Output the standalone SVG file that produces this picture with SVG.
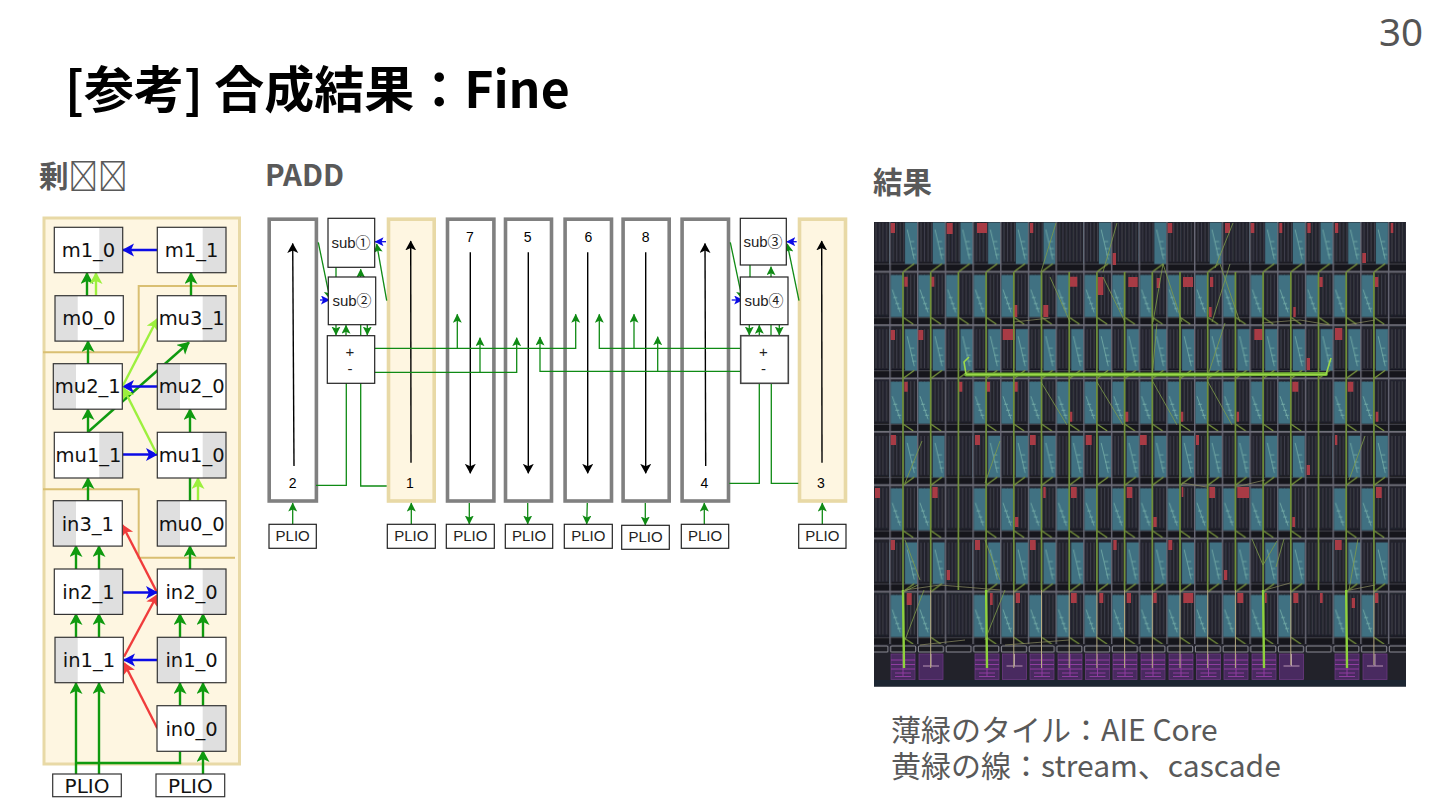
<svg xmlns="http://www.w3.org/2000/svg" width="1440" height="810" viewBox="0 0 1440 810">
<style>
.cjk{font-family:"Noto Sans CJK JP","Noto Sans",sans-serif}
.h{font-weight:700;font-size:29.5px;fill:#595959}
.cap{font-size:30px;fill:#595959}
.n{fill:#fff;stroke:none}
.g{fill:#dfdfdf;stroke:none}
.o{fill:none;stroke:#333;stroke-width:1.2}
.nt{font-family:"DejaVu Sans",sans-serif;font-size:19.5px;fill:#111;text-anchor:middle}
.gl{fill:none;stroke:#0f9a0f;stroke-width:2.4}
.lm{fill:none;stroke:#9cf03e;stroke-width:2.4}
.bl{fill:none;stroke:#0b0be6;stroke-width:2.4}
.rd{fill:none;stroke:#f03c3c;stroke-width:2.4}
.t{fill:none;stroke:#0f8a14;stroke-width:1.3}
.tb{fill:none;stroke:#0b0be6;stroke-width:1.3}
.k{fill:none;stroke:#000;stroke-width:1.4}
.tan{fill:none;stroke:#d9bf72;stroke-width:2}
.bx{stroke:#808080;stroke-width:3.6;fill:#fff}
.by{stroke:#e8d9a6;stroke-width:3.6;fill:#fef6e1}
.sb{fill:#fff;stroke:#222;stroke-width:1.2}
.mt{font-family:"Liberation Sans","Noto Sans CJK JP",sans-serif;font-size:15px;fill:#222;text-anchor:middle}
.num{font-family:"Liberation Sans",sans-serif;font-size:14px;fill:#000;text-anchor:middle}
</style>
<defs>
<filter id="soft" x="0" y="0" width="1" height="1"><feGaussianBlur stdDeviation=".55"/></filter>
<marker id="mg" markerUnits="userSpaceOnUse" markerWidth="14" markerHeight="14" refX="11" refY="6.5" orient="auto"><path d="M0 0L12 6.5L0 13L3 6.5z" fill="#0f9a0f"/></marker>
<marker id="ml" markerUnits="userSpaceOnUse" markerWidth="14" markerHeight="14" refX="11" refY="6.5" orient="auto"><path d="M0 0L12 6.5L0 13L3 6.5z" fill="#9cf03e"/></marker>
<marker id="mb" markerUnits="userSpaceOnUse" markerWidth="14" markerHeight="14" refX="11" refY="6.5" orient="auto"><path d="M0 0L12 6.5L0 13L3 6.5z" fill="#0b0be6"/></marker>
<marker id="mr" markerUnits="userSpaceOnUse" markerWidth="14" markerHeight="14" refX="11" refY="6.5" orient="auto"><path d="M0 0L12 6.5L0 13L3 6.5z" fill="#f03c3c"/></marker>
<marker id="sg" markerUnits="userSpaceOnUse" markerWidth="11" markerHeight="11" refX="8.5" refY="4.5" orient="auto"><path d="M0 0L9 4.5L0 9L2 4.5z" fill="#0f8a14"/></marker>
<marker id="sb" markerUnits="userSpaceOnUse" markerWidth="11" markerHeight="11" refX="8.5" refY="4.5" orient="auto"><path d="M0 0L9 4.5L0 9L2 4.5z" fill="#0b0be6"/></marker>
<marker id="sk" markerUnits="userSpaceOnUse" markerWidth="12" markerHeight="12" refX="9.5" refY="5.5" orient="auto"><path d="M0 0L10 5.5L0 11L2.5 5.5z" fill="#000"/></marker>
<g id="gb">
<rect width="27.7" height="106.66" fill="#20212b"/>
<path d="M4 5V44M7.5 5V44M11 5V44M14.5 5V44M18 5V44M21.5 5V44M25 5V44M4 57V97M7.5 57V97M11 57V97M14.5 57V97M18 57V97M21.5 57V97M25 57V97" stroke="#45464f" stroke-width=".9" fill="none"/>
<rect y="45" width="27.7" height="8" fill="#15151b"/><rect y="98.4" width="27.7" height="8" fill="#15151b"/>
<path d="M0 46.5H27.7M0 100H27.7" stroke="#4c4c56" stroke-width=".9"/>
<path d="M0 .8H27.7M0 54.13H27.7" stroke="#71717b" stroke-width="1.7"/>
<path d="M.7 0V106.66" stroke="#686874" stroke-width="1.5"/>
</g>
<pattern id="blankp" patternUnits="userSpaceOnUse" x="889.3" y="217.6" width="27.7" height="106.66"><use href="#gb"/></pattern>
<pattern id="tile" patternUnits="userSpaceOnUse" x="889.3" y="217.6" width="27.7" height="106.66">
<use href="#gb"/>
<rect x="15.7" y="4.8" width="12" height="41.6" fill="#3f7182"/>
<rect x="1.4" y="57.4" width="12.4" height="42" fill="#3f7182"/>
<path d="M18 12L25 42M21 24h4M22 31h4M23 37h4M3 72L11 95M4 80h4M6 86h4M8 91h4" stroke="#93cdbb" stroke-width=".7" fill="none" opacity=".75"/>
<path d="M25 46L14 54M14 100L24 106.6" stroke="#7d9a3d" stroke-width="1.2" fill="none"/>
</pattern>
<pattern id="pad" patternUnits="userSpaceOnUse" x="889.3" y="644" width="27.7" height="10"><rect width="27.7" height="10" fill="#22222c"/><rect x="1.4" y="2" width="25" height="6" rx="1" fill="#1c1c24" stroke="#8b8b93" stroke-width="1"/></pattern>
<g id="pu"><rect x="0" y="654" width="24" height="25.5" fill="#4a2960" stroke="#6b3a80" stroke-width=".8"/><path d="M0 660H24M0 664.5H24M0 669H24M4 673H20M4 676.5H20M12 654V676" stroke="#8f3ca0" stroke-width="1" fill="none"/></g>
<g id="pv"><rect x="0" y="654" width="24" height="25.5" fill="#4a2960" stroke="#6b3a80" stroke-width=".8"/><path d="M4 666H20M12 654V666" stroke="#b89ab4" stroke-width="1" fill="none"/></g>
</defs>
<rect width="1440" height="810" fill="#fff"/>
<text x="1379" y="46" font-family="'Noto Sans',sans-serif" font-size="38.5" fill="#555">30</text>
<text class="cjk" x="65" y="108" font-size="50" font-weight="700" fill="#000">[参考] 合成結果：Fine</text>
<text class="cjk h" x="39" y="187">剰&#xE000;&#xE001;</text>
<text class="cjk h" x="265" y="186">PADD</text>
<text class="cjk h" x="873" y="193">結果</text>

<g id="left-panel">
<rect x="44" y="218" width="195.5" height="546" fill="#fef6e1" stroke="#e8d9a6" stroke-width="3"/>
<path class="tan" d="M43 352.3H138.7V286H237"/>
<path class="tan" d="M43 489.3H138.7V557.7H235"/>
</g>
<g id="left-connectors">
<path class="gl" marker-end="url(#mg)" d="M87 296V273"/>
<path class="lm" marker-end="url(#ml)" d="M96 296V273"/>
<path class="gl" marker-end="url(#mg)" d="M191 296V273"/>
<path class="gl" marker-end="url(#mg)" d="M88 364V341"/>
<path class="gl" marker-end="url(#mg)" d="M88 432V409"/>
<path class="gl" marker-end="url(#mg)" d="M88 432L189 342.5"/>
<path class="gl" marker-end="url(#mg)" d="M190 432V409"/>
<path class="bl" marker-end="url(#mb)" d="M157 250H123"/>
<path class="bl" marker-end="url(#mb)" d="M157 386.5H123"/>
<path class="bl" marker-end="url(#mb)" d="M123 454.5H157"/>
<path class="lm" marker-end="url(#ml)" d="M122.7 386L157.3 319"/>
<path class="lm" marker-end="url(#ml)" d="M156.5 453.5L123.3 388"/>
<path class="gl" marker-end="url(#mg)" d="M88 501V478"/>
<path class="gl" d="M190 501V478"/>
<path class="lm" marker-end="url(#ml)" d="M198 501V478"/>
<path class="gl" marker-end="url(#mg)" d="M76 569V546"/>
<path class="gl" marker-end="url(#mg)" d="M99 569V546"/>
<path class="gl" marker-end="url(#mg)" d="M190 569V546"/>
<path class="gl" marker-end="url(#mg)" d="M76 637V614"/>
<path class="gl" marker-end="url(#mg)" d="M99 637V614"/>
<path class="gl" marker-end="url(#mg)" d="M180 637V614"/>
<path class="gl" marker-end="url(#mg)" d="M203 637V614"/>
<path class="gl" marker-end="url(#mg)" d="M180 706V683"/>
<path class="gl" marker-end="url(#mg)" d="M203 706V683"/>
<path class="gl" marker-end="url(#mg)" d="M76 774V683"/>
<path class="gl" marker-end="url(#mg)" d="M99 774V683"/>
<path class="gl" d="M180 751V763H76"/>
<path class="gl" marker-end="url(#mg)" d="M203 774V751"/>
<path class="rd" marker-end="url(#mr)" d="M156.7 591.7L122.3 525"/>
<path class="rd" marker-end="url(#mr)" d="M124 656.7L157.3 595"/>
<path class="rd" marker-end="url(#mr)" d="M157.3 728.3L124 663"/>
<path class="bl" marker-end="url(#mb)" d="M123 592.5H157"/>
<path class="bl" marker-end="url(#mb)" d="M157 660H124"/>
</g>
<g id="m1_0"><rect class="n" x="54.3" y="227.3" width="68.4" height="45.4"/><rect class="g" x="99.3" y="227.3" width="23.4" height="45.4"/><rect class="o" x="54.3" y="227.3" width="68.4" height="45.4"/><text class="nt" x="88.5" y="257">m1_0</text></g>
<g id="m1_1"><rect class="n" x="157.3" y="227.3" width="68.7" height="45.4"/><rect class="g" x="202.7" y="227.3" width="23.3" height="45.4"/><rect class="o" x="157.3" y="227.3" width="68.7" height="45.4"/><text class="nt" x="191.6" y="257">m1_1</text></g>
<g id="m0_0"><rect class="n" x="55" y="295.7" width="68.3" height="45.4"/><rect class="g" x="55" y="295.7" width="22.7" height="45.4"/><rect class="o" x="55" y="295.7" width="68.3" height="45.4"/><text class="nt" x="89" y="325">m0_0</text></g>
<g id="mu3_1"><rect class="n" x="157.3" y="295.7" width="68.7" height="45.4"/><rect class="g" x="202.7" y="295.7" width="23.3" height="45.4"/><rect class="o" x="157.3" y="295.7" width="68.7" height="45.4"/><text class="nt" x="191.6" y="325">mu3_1</text></g>
<g id="mu2_1"><rect class="n" x="53.3" y="363.7" width="69" height="45.5"/><rect class="g" x="53.3" y="363.7" width="22.7" height="45.5"/><rect class="o" x="53.3" y="363.7" width="69" height="45.5"/><text class="nt" x="87.8" y="393">mu2_1</text></g>
<g id="mu2_0"><rect class="n" x="157.3" y="363.7" width="68.7" height="45.5"/><rect class="g" x="157.3" y="363.7" width="22.7" height="45.5"/><rect class="o" x="157.3" y="363.7" width="68.7" height="45.5"/><text class="nt" x="191.6" y="393">mu2_0</text></g>
<g id="mu1_1"><rect class="n" x="54.3" y="432.3" width="68.4" height="45.7"/><rect class="g" x="99.3" y="432.3" width="23.4" height="45.7"/><rect class="o" x="54.3" y="432.3" width="68.4" height="45.7"/><text class="nt" x="88.5" y="462">mu1_1</text></g>
<g id="mu1_0"><rect class="n" x="157.3" y="432.3" width="68.7" height="45.7"/><rect class="g" x="202.7" y="432.3" width="23.3" height="45.7"/><rect class="o" x="157.3" y="432.3" width="68.7" height="45.7"/><text class="nt" x="191.6" y="462">mu1_0</text></g>
<g id="in3_1"><rect class="n" x="53.3" y="500.7" width="69" height="45.4"/><rect class="g" x="53.3" y="500.7" width="22.7" height="45.4"/><rect class="o" x="53.3" y="500.7" width="69" height="45.4"/><text class="nt" x="87.8" y="531">in3_1</text></g>
<g id="mu0_0"><rect class="n" x="157.3" y="500.7" width="68.7" height="45.4"/><rect class="g" x="157.3" y="500.7" width="22.7" height="45.4"/><rect class="o" x="157.3" y="500.7" width="68.7" height="45.4"/><text class="nt" x="191.6" y="531">mu0_0</text></g>
<g id="in2_1"><rect class="n" x="54.3" y="569" width="68.4" height="45.4"/><rect class="g" x="99.3" y="569" width="23.4" height="45.4"/><rect class="o" x="54.3" y="569" width="68.4" height="45.4"/><text class="nt" x="88.5" y="599">in2_1</text></g>
<g id="in2_0"><rect class="n" x="157.3" y="569" width="68.7" height="45.4"/><rect class="g" x="202.7" y="569" width="23.3" height="45.4"/><rect class="o" x="157.3" y="569" width="68.7" height="45.4"/><text class="nt" x="191.6" y="599">in2_0</text></g>
<g id="in1_1"><rect class="n" x="55" y="637.3" width="68.3" height="45.4"/><rect class="g" x="55" y="637.3" width="22.7" height="45.4"/><rect class="o" x="55" y="637.3" width="68.3" height="45.4"/><text class="nt" x="89" y="667">in1_1</text></g>
<g id="in1_0"><rect class="n" x="157.3" y="637.3" width="68.7" height="45.4"/><rect class="g" x="157.3" y="637.3" width="22.7" height="45.4"/><rect class="o" x="157.3" y="637.3" width="68.7" height="45.4"/><text class="nt" x="191.6" y="667">in1_0</text></g>
<g id="in0_0"><rect class="n" x="157" y="705.7" width="69" height="45.6"/><rect class="g" x="202.7" y="705.7" width="23.3" height="45.6"/><rect class="o" x="157" y="705.7" width="69" height="45.6"/><text class="nt" x="191.6" y="736">in0_0</text></g>
<g id="plio-l1"><rect class="n" x="52.7" y="774" width="68.6" height="22.7"/><rect class="o" x="52.7" y="774" width="68.6" height="22.7"/><text class="nt" x="87" y="793" style="font-size:20px">PLIO</text></g>
<g id="plio-l2"><rect class="n" x="156" y="774" width="68.7" height="22.7"/><rect class="o" x="156" y="774" width="68.7" height="22.7"/><text class="nt" x="190.3" y="793" style="font-size:20px">PLIO</text></g>

<g id="box2"><rect class="bx" x="269.2" y="219.2" width="47.2" height="281.8"/><text class="num" x="292.7" y="488">2</text></g>
<g id="box1"><rect class="by" x="388.5" y="219.2" width="45.7" height="281.8"/><text class="num" x="410" y="488">1</text></g>
<g id="box7"><rect class="bx" x="447.5" y="219.2" width="46.4" height="281.8"/><text class="num" x="470" y="242">7</text></g>
<g id="box5"><rect class="bx" x="505.5" y="219.2" width="46" height="281.8"/><text class="num" x="527.7" y="242">5</text></g>
<g id="box6"><rect class="bx" x="565.1" y="219.2" width="46.4" height="281.8"/><text class="num" x="588.3" y="242">6</text></g>
<g id="box8"><rect class="bx" x="623.1" y="219.2" width="46.1" height="281.8"/><text class="num" x="645.7" y="242">8</text></g>
<g id="box4"><rect class="bx" x="682.1" y="219.2" width="46.4" height="281.8"/><text class="num" x="704.3" y="488">4</text></g>
<g id="box3"><rect class="by" x="799.5" y="219.2" width="46" height="281.8"/><text class="num" x="821" y="488">3</text></g>

<g id="mid-connectors">
<path class="k" marker-end="url(#sk)" d="M294 466L292.7 243.5"/>
<path class="k" marker-end="url(#sk)" d="M411 462.7L410.7 241"/>
<path class="k" marker-end="url(#sk)" d="M470.3 252.3V473.3"/>
<path class="k" marker-end="url(#sk)" d="M528.3 252.3V473.3"/>
<path class="k" marker-end="url(#sk)" d="M587.7 252.3V473.3"/>
<path class="k" marker-end="url(#sk)" d="M645.7 252.3V473.3"/>
<path class="k" marker-end="url(#sk)" d="M705.7 466L705 243.5"/>
<path class="k" marker-end="url(#sk)" d="M822 462.7L821.7 241"/>
<path class="t" marker-end="url(#sg)" d="M292.7 524V503"/>
<path class="t" marker-end="url(#sg)" d="M411.3 524V503"/>
<path class="t" marker-end="url(#sg)" d="M469.3 503V524"/>
<path class="t" marker-end="url(#sg)" d="M527.7 503V524"/>
<path class="t" marker-end="url(#sg)" d="M587.3 503L586.7 524"/>
<path class="t" marker-end="url(#sg)" d="M645.3 503V525"/>
<path class="t" marker-end="url(#sg)" d="M704.3 524V503"/>
<path class="t" marker-end="url(#sg)" d="M822.3 524V503"/>
<path class="t" marker-end="url(#sg)" d="M318.3 242.3L330 299.3"/>
<path class="tb" marker-end="url(#sb)" d="M320 300H329.5"/>
<path class="tb" marker-end="url(#sb)" d="M386 241.7H375"/>
<path class="t" marker-end="url(#sg)" d="M386.7 300.7L376.7 244"/>
<path class="t" d="M336 267V277"/>
<path class="t" marker-end="url(#sg)" d="M360.7 277V269.3"/>
<path class="t" marker-end="url(#sg)" d="M336 325V335"/>
<path class="t" marker-end="url(#sg)" d="M346 335.7V325.3"/>
<path class="t" marker-end="url(#sg)" d="M367.3 325V335"/>
<path class="t" d="M360.7 325V335.7"/>
<path class="t" d="M346.3 383V485.3H316"/>
<path class="t" d="M360.7 383V486H386.7"/>
<path class="t" marker-end="url(#sg)" d="M374.7 348.3H575.7V314.3"/>
<path class="t" marker-end="url(#sg)" d="M457.3 348.3V314.3"/>
<path class="t" marker-end="url(#sg)" d="M374.7 372.3H516.7V337.7"/>
<path class="t" marker-end="url(#sg)" d="M480 372.3V337.7"/>
<path class="t" marker-end="url(#sg)" d="M740.7 371.3H540V337"/>
<path class="t" marker-end="url(#sg)" d="M657.7 371.3V336.7"/>
<path class="t" marker-end="url(#sg)" d="M740.7 348.3H599.3V314.3"/>
<path class="t" marker-end="url(#sg)" d="M634 348.3V314.3"/>
<path class="t" marker-end="url(#sg)" d="M730.3 242.3L742.3 299.3"/>
<path class="tb" marker-end="url(#sb)" d="M731.7 300H742.7"/>
<path class="tb" marker-end="url(#sb)" d="M796.7 241.7H786.7"/>
<path class="t" marker-end="url(#sg)" d="M799 300.7L787.3 244"/>
<path class="t" d="M750 265V277"/>
<path class="t" marker-end="url(#sg)" d="M771 277V266.7"/>
<path class="t" marker-end="url(#sg)" d="M749.3 325V335"/>
<path class="t" marker-end="url(#sg)" d="M759.3 335.7V325.3"/>
<path class="t" marker-end="url(#sg)" d="M779.3 325V335"/>
<path class="t" d="M771 325V335.7"/>
<path class="t" d="M759.3 383V483.3H729.3"/>
<path class="t" d="M771.3 383V483.3H798.3"/>
</g>
<g id="sub1"><rect class="sb" x="328" y="218.3" width="46.7" height="49"/><text class="mt" x="351" y="248">sub①</text></g>
<g id="sub2"><rect class="sb" x="328.3" y="277" width="47.4" height="47.7"/><text class="mt" x="352" y="306">sub②</text></g>
<g id="add-l"><rect class="sb" x="327.3" y="335.7" width="47.4" height="47.6"/><text class="mt" x="350" y="357">+</text><text class="mt" x="350" y="374">-</text></g>
<g id="sub3"><rect class="sb" x="740.3" y="218.3" width="46" height="46.7"/><text class="mt" x="763" y="247">sub③</text></g>
<g id="sub4"><rect class="sb" x="740.3" y="277" width="47.7" height="47.7"/><text class="mt" x="764" y="306">sub④</text></g>
<g id="add-r"><rect class="sb" x="740.7" y="335.7" width="47.6" height="47.6" style="stroke:#444;stroke-width:1.6"/><text class="mt" x="763.5" y="357">+</text><text class="mt" x="763.5" y="374">-</text></g>
<g id="plio-2"><rect class="sb" x="269" y="524.3" width="47.3" height="24"/><text class="mt" x="292.7" y="541">PLIO</text></g>
<g id="plio-1"><rect class="sb" x="387.3" y="524.3" width="48" height="24"/><text class="mt" x="411.3" y="541">PLIO</text></g>
<g id="plio-7"><rect class="sb" x="446.3" y="524.3" width="48" height="24"/><text class="mt" x="470.3" y="541">PLIO</text></g>
<g id="plio-5"><rect class="sb" x="505.3" y="524.3" width="47.4" height="24"/><text class="mt" x="529" y="541">PLIO</text></g>
<g id="plio-6"><rect class="sb" x="564.3" y="524.3" width="48" height="24"/><text class="mt" x="588.3" y="541">PLIO</text></g>
<g id="plio-8"><rect class="sb" x="621.7" y="525.3" width="47.6" height="24"/><text class="mt" x="645.5" y="542">PLIO</text></g>
<g id="plio-4"><rect class="sb" x="681.3" y="524.3" width="47.4" height="24"/><text class="mt" x="705" y="541">PLIO</text></g>
<g id="plio-3"><rect class="sb" x="798.7" y="524.3" width="47.3" height="24"/><text class="mt" x="822.3" y="541">PLIO</text></g>

<g id="result-map" filter="url(#soft)">
<rect x="874" y="222" width="532" height="422" fill="url(#tile)"/>
<path fill="url(#blankp)" d="M874 222h15.3v422h-15.3zM1387.9 222h18.1v422h-18.1zM944.7 378.4h27.7v265.6h-27.7zM1304.8 378.4h27.7v265.6h-27.7zM1055.5 222h27.7v49.7h-27.7zM1110.9 222h27.7v49.7h-27.7zM1166.3 222h27.7v49.7h-27.7zM1221.7 222h27.7v49.7h-27.7z"/>
<path fill="#a83a44" d="M890.7 223h4.3v10h-4.3zM946.7 223h6v11h-6zM977 223h10v10h-10zM1030 223h3.3v10h-3.3zM1112.7 253h3.3v12h-3.3zM1167.7 223h4.6v10h-4.6zM1250.7 223h3.6v10h-3.6zM1279.3 223h3v10h-3zM1307.3 223h3.4v10h-3.4zM1335 223h3.3v10h-3.3zM1362.3 253h3.7v10h-3.7zM1390.7 223h2.6v10h-2.6zM1225 223h5v10h-5z
M904.3 276.7h3.4v10h-3.4zM931 276.7h3.3v10h-3.3zM1013.3 305h4v12h-4zM1043.3 305h5v12h-5zM1070 276.7h7.3v10h-7.3zM1097.7 277h5.6v18h-5.6zM1128.3 277h9.4v10h-9.4zM1156.7 278h3.3v10h-3.3zM1183 277h10v10h-10zM1210 277h3.3v10h-3.3zM1209 307h2.7v10h-2.7zM1293.3 307h2.4v10h-2.4zM1319.3 277h3.4v10h-3.4zM1375 277h3.3v10h-3.3z
M890.7 330h4.3v10h-4.3zM918.3 330h5v10h-5zM1002.7 329h12.3v11h-12.3zM1254.3 329h9v11h-9zM1306.7 358h3.3v12h-3.3zM1335 328h7.3v12h-7.3z
M904.3 381.7h3.4v10h-3.4zM958.3 381.7h4v10h-4zM986.7 381.7h3.3v10h-3.3zM1014.3 381.7h3.4v10h-3.4zM1070 411.7h2.3v10h-2.3zM1125 411.7h3.3v10h-3.3zM1181 411.7h2.3v10h-2.3zM1236.7 411.7h2.3v10h-2.3zM1292.3 381.7h6v10h-6zM1347.7 381.7h5.6v10h-5.6zM1375.7 411.7h2.6v10h-2.6z
M890.7 435h5.3v10h-5.3zM975 435h5v10h-5zM1030 435h5.7v10h-5.7zM1085.7 435h6v10h-6zM1140 435h6.7v10h-6.7zM1196 435h3v10h-3zM1335 435h2.3v10h-2.3zM1306.7 465h3.3v10h-3.3z
M875 488h5v10h-5zM932.3 487h5.4v11h-5.4zM1015 517h3.3v10h-3.3zM1043.3 487h2.4v11h-2.4zM1071 487h5.7v11h-5.7zM1126.7 487h5.6v11h-5.6zM1153.3 517h3.4v10h-3.4zM1181.7 487h1.6v10h-1.6zM1209.3 487h5.7v11h-5.7zM1237.3 487h11.7v11h-11.7zM1292.3 517h2.7v10h-2.7zM1376 487h5.7v11h-5.7z
M890.7 540h4.3v10h-4.3zM975 540h5v10h-5zM1030 540h5.7v10h-5.7zM1113.3 540h3.4v10h-3.4zM946.7 570h3.3v10h-3.3zM1168.3 540h4v10h-4zM1224 570h3.3v10h-3.3zM1335 540h6.7v10h-6.7z
M906.7 593h5v12h-5zM990 593h2.7v12h-2.7zM1015.7 593h4.3v10h-4.3zM1071 593h5.7v10h-5.7zM1099.3 593h4v10h-4zM1126.7 593h4.3v10h-4.3zM1153.3 593h3.4v10h-3.4zM1183.3 593h10v10h-10zM1237.3 593h6v10h-6zM1265 593h1.7v10h-1.7zM1293.3 593h5v10h-5zM1320 593h2.7v10h-2.7zM1351.7 598h3.3v10h-3.3zM1375 593h3.3v10h-3.3z"/>
<rect x="874" y="644" width="532" height="10" fill="url(#pad)"/>
<rect x="874" y="654" width="532" height="32.5" fill="#21222c"/>
<rect x="874" y="680" width="532" height="6.5" fill="#1d2530"/>
<use href="#pu" x="891"/><use href="#pv" x="919"/><use href="#pu" x="975"/><use href="#pv" x="1002.5"/>
<use href="#pu" x="1030"/><use href="#pu" x="1058"/><use href="#pu" x="1085.5"/><use href="#pu" x="1113"/>
<use href="#pu" x="1141"/><use href="#pu" x="1169"/><use href="#pu" x="1196.5"/><use href="#pu" x="1224"/>
<use href="#pu" x="1252"/><use href="#pv" x="1279.5"/><use href="#pu" x="1335"/><use href="#pv" x="1363"/>
<path fill="none" stroke="#6f8f38" stroke-width="1.7" d="M903 272V590M930.7 272V590M958.4 272V590M986.1 272V590M1013.8 272V590M1041.5 272V590M1069.2 272V590M1096.9 272V590M1124.6 272V590M1152.3 272V590M1180 272V590M1207.7 272V590M1235.4 272V590M1263.1 272V590M1290.8 272V590M1318.5 272V590M1346.2 272V590M1373.9 272V590"/>
<path fill="none" stroke="#b8ad82" stroke-width="1" d="M930.7 590V668M1013.8 590V668M1041.5 590V668M1069.2 590V668M1096.9 590V668M1124.6 590V668M1152.3 590V668M1180 590V668M1207.7 590V668M1235.4 590V668M1290.8 590V665M1373.9 590V665"/>
<path fill="none" stroke="#8fd23c" stroke-width="2.4" d="M903 590L904 668M986.1 590L987 668M1263.1 590L1264 668M1346.2 590L1347 668"/>
<path fill="none" stroke="#7f9c4a" stroke-width="1" opacity=".8" d="M1056 223L1041 272M1117 223L1103 272M1050 277L1070 322M1103 277L1125 322M1041 382L1067 425M1097 382L1123 425M1153 382L1177 425M1208 382L1232 425M1233 223L1215 268M1163 264L1153 322M1163 264L1182 322M1230 264L1212 322M1220 264L1240 322M1252 539L1263 565L1277 541M1284 539L1276 567M1358 539L1349 590M1365 436L1349 480M1157 323L1152 378M1225 323L1207 378M922 441L905 483M1000 441L985 483M924 590L905 640M1005 590L985 640M905 540L920 580M985 540L1000 580M903 592L918 585"/>
<path fill="none" stroke="#8c8c62" stroke-width=".9" opacity=".8" d="M1014 322L1050 318M1262 323L1300 320L1330 325M1346 325L1375 320M1182 483L1207 487M1236 487L1265 480M905 590L940 585L1000 590M1265 590L1290 583M1350 590L1375 585M1005 645L1069 640M920 645L965 640"/>
<path fill="none" stroke="#6fae34" stroke-width="3.8" stroke-linecap="round" d="M966 374.5H1200L1326 374"/>
<path fill="none" stroke="#9bd84a" stroke-width="1.6" d="M966 374.5H1326L1331 358M966 374L964 362L969 357"/>
</g>
<text class="cjk cap" y="741"><tspan x="891">薄緑のタイル：AIE Core</tspan><tspan x="891" y="777">黄緑の線：stream、cascade</tspan></text>
</svg>
